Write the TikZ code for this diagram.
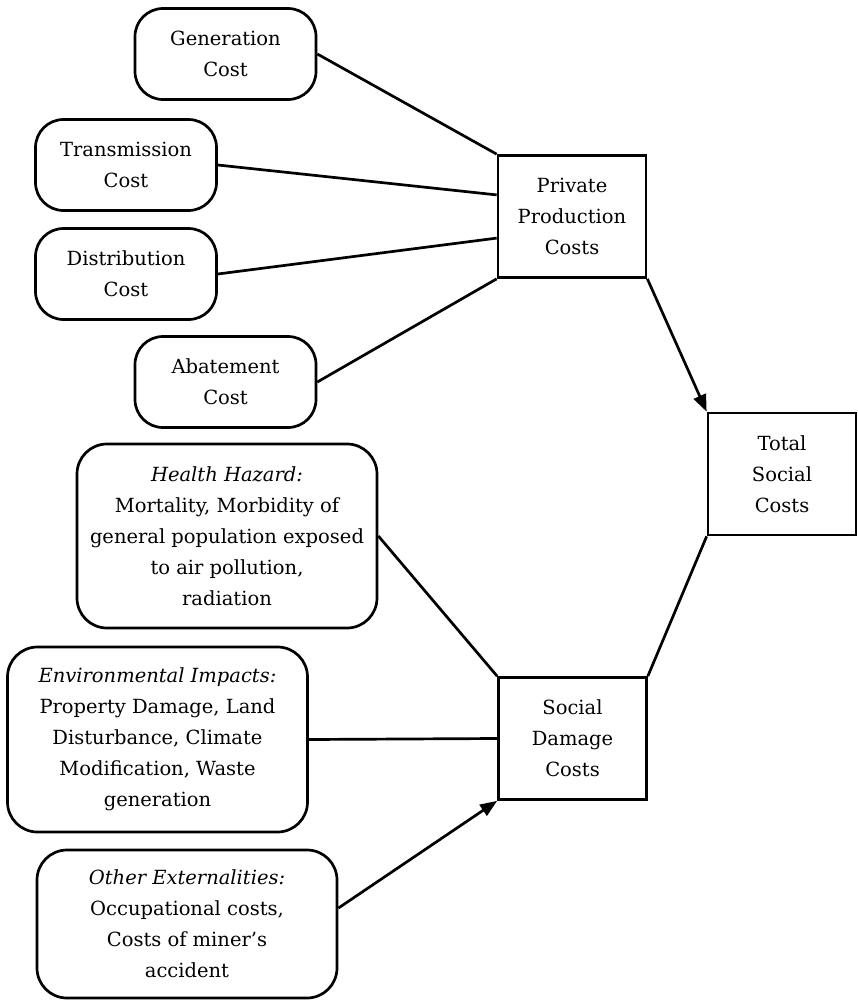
\documentclass[tikz,border=0pt]{standalone}
\usepackage{fontspec}
\setmainfont{DejaVu Serif}
\usetikzlibrary{arrows.meta}
\begin{document}
\begin{tikzpicture}[x=1pt,y=-1pt,line width=2.7pt,
    every node/.style={font=\fontsize{19.5}{31}\selectfont,align=center},
    cost/.style={draw,rounded corners=28pt,minimum width=181pt,minimum height=91pt},
    impact/.style={draw,rounded corners=30pt,minimum width=300pt},
    total/.style={draw,minimum width=148pt,minimum height=122pt},
    >={Triangle[length=17pt,width=13pt]}]
    \useasboundingbox (0,0) rectangle (857,1001);

    \node[cost] (gen) at (225.5,54) {Generation\\Cost};
    \node[cost] (trans) at (126,165) {Transmission\\Cost};
    \node[cost] (dist) at (126,274) {Distribution\\Cost};
    \node[cost] (abat) at (225.5,382) {Abatement\\Cost};
    \node[total] (ppc) at (572,216.5) {Private\\Production\\Costs};
    \node[total] (tsc) at (782,474) {Total\\Social\\Costs};
    \node[total] (sdc) at (572.5,738.5) {Social\\Damage\\Costs};
    \node[impact,minimum height=184pt] (health) at (227,536)
        {\textit{Health Hazard:}\\Mortality, Morbidity of\\general population exposed\\to air pollution,\\radiation};
    \node[impact,minimum height=185pt] (env) at (157.5,739.5)
        {\textit{Environmental Impacts:}\\Property Damage, Land\\Disturbance, Climate\\Modification, Waste\\generation};
    \node[impact,minimum height=148pt] (other) at (187,924)
        {\textit{Other Externalities:}\\Occupational costs,\\Costs of miner's\\accident};

    \draw (gen.east) -- (ppc.north west);
    \draw (trans.east) -- (ppc.164);
    \draw (dist.east) -- (ppc.196);
    \draw (abat.east) -- (ppc.south west);
    \draw[->] (ppc.south east) -- (tsc.north west);
    \draw (tsc.south west) -- (sdc.north east);
    \draw (health.east) -- (sdc.north west);
    \draw (env.east) -- (sdc.west);
    \draw[->] (other.6) -- (sdc.south west);
\end{tikzpicture}
\end{document}
